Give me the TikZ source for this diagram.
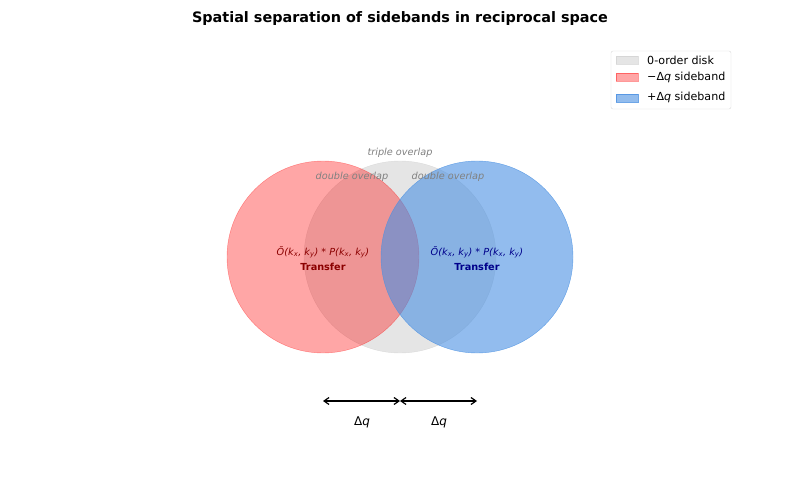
\documentclass[tikz,border=0pt]{standalone}
\usepackage{fontspec}
\setmainfont{DejaVu Sans}
\setsansfont{DejaVu Sans}
\usetikzlibrary{arrows.meta, positioning}

\definecolor{sbred}{RGB}{255,0,0}
\definecolor{sbblue}{RGB}{74,144,226}
\definecolor{diskgray}{RGB}{204,204,204}
\definecolor{txtgray}{RGB}{128,128,128}
\definecolor{darkred}{RGB}{139,0,0}
\definecolor{darkblue}{RGB}{0,0,139}

\begin{document}
\begin{tikzpicture}[x=1pt, y=1pt, font=\sffamily,
	disk/.style={circle, minimum size=192pt, inner sep=0pt},
	note/.style={font=\fontsize{9.7}{11}\selectfont\itshape, text=txtgray},
	band/.style={font=\fontsize{9.7}{15}\selectfont, align=center},
	swatch/.style={minimum width=22pt, minimum height=8pt, inner sep=0pt},
	leg/.style={font=\fontsize{11.1}{13}\selectfont, anchor=west, inner sep=0pt},
	dq/.style={<->, >={Straight Barb[length=5pt, width=7pt]}, line width=1.2pt}]
	
	\useasboundingbox (0,0) rectangle (800,480);
	
	\node[font=\fontsize{14.4}{16}\selectfont\bfseries] (T) at (400,461) {Spatial separation of sidebands in reciprocal space};
	
	% the three disks
	\node[disk, fill=diskgray, fill opacity=0.5, draw=diskgray, draw opacity=0.6] (Z) at (400,223) {};
	\node[disk, fill=sbred, fill opacity=0.35, draw=sbred, draw opacity=0.4] (M) at (323,223) {};
	\node[disk, fill=sbblue, fill opacity=0.6, draw=sbblue, draw opacity=0.8] (P) at (477,223) {};
	
	\node[note] (t3) at (400,327) {triple overlap};
	\node[note] (d1) at (352,303) {double overlap};
	\node[note] (d2) at (448,303) {double overlap};
	
	\node[band, text=darkred] (lm) at (323,221.5) {\textit{Õ(k\textsubscript{x}, k\textsubscript{y}) * P(k\textsubscript{x}, k\textsubscript{y})}\\\textbf{Transfer}};
	\node[band, text=darkblue] (lp) at (477,221.5) {\textit{Õ(k\textsubscript{x}, k\textsubscript{y}) * P(k\textsubscript{x}, k\textsubscript{y})}\\\textbf{Transfer}};
	
	% shift arrows
	\coordinate (aM) at (323,79);
	\coordinate (aZ) at (400,79);
	\coordinate (aP) at (477,79);
	\draw[dq] (aM) -- (aZ);
	\draw[dq] (aZ) -- (aP);
	\node[font=\fontsize{12}{14}\selectfont] (q1) at (362,58) {Δ\textit{q}};
	\node[font=\fontsize{12}{14}\selectfont] (q2) at (439,58) {Δ\textit{q}};
	
	% legend
	\node[draw=black!15, rounded corners=2pt, minimum width=120pt, minimum height=58pt, fill=white] (L) at (671,400) {};
	\node[swatch, fill=diskgray, fill opacity=0.5, draw=diskgray, draw opacity=0.6] (s0) at (627,420) {};
	\node[swatch, fill=sbred, fill opacity=0.35, draw=sbred, draw opacity=0.4, below=9pt of s0] (s1) {};
	\node[swatch, fill=sbblue, fill opacity=0.6, draw=sbblue, draw opacity=0.8, below=12pt of s1] (s2) {};
	\node[leg] (l0) at (647,420) {0-order disk};
	\node[leg] (l1) at (647,403) {−Δ\textit{q} sideband};
	\node[leg] (l2) at (647,383) {+Δ\textit{q} sideband};
\end{tikzpicture}
\end{document}
